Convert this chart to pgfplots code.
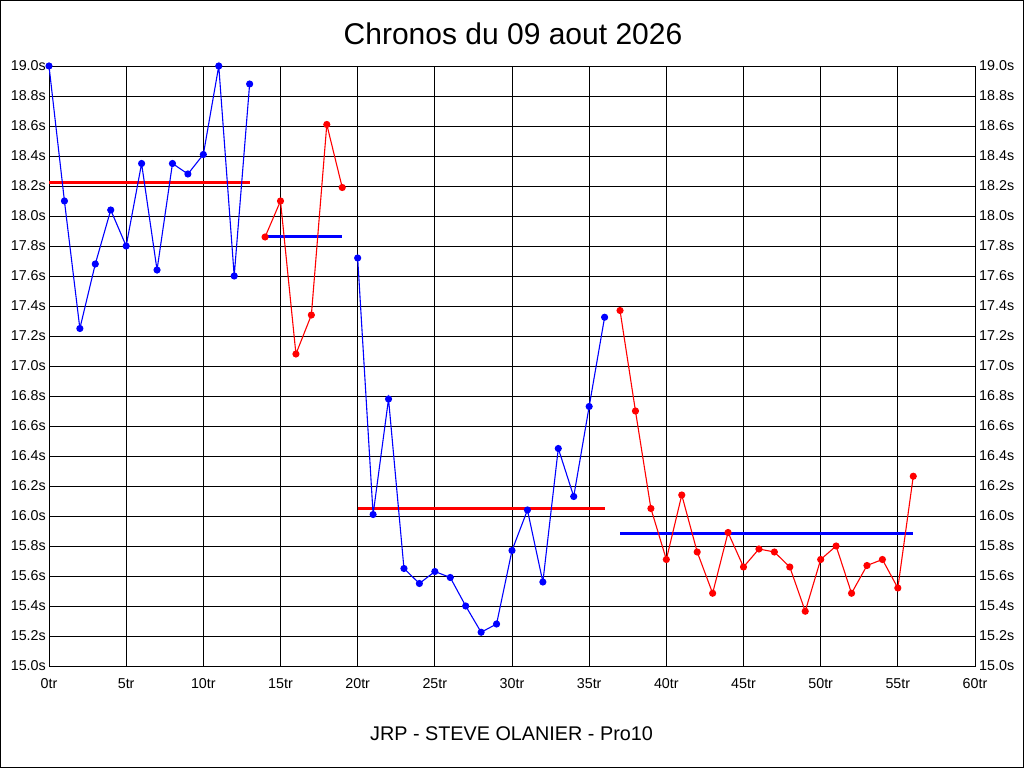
\documentclass[border=0pt]{standalone}
\usepackage{pgfplots}
\pgfplotsset{compat=1.18}
\usepackage{fontspec}
\setmainfont{Liberation Sans}
\begin{document}
\begin{tikzpicture}
\useasboundingbox (0,0) rectangle (1024pt,768pt);
\fill[white] (0,0) rectangle (1024pt,768pt);
\draw[black, line width=1pt] (0.5pt,0.5pt) rectangle (1023.5pt,767.5pt);
\pgfplotsset{
  base/.style={
    at={(49pt,102pt)}, anchor=south west,
    scale only axis, width=926pt, height=600pt,
    xmin=0, xmax=60, ymin=15, ymax=19,
    xtick={0,5,...,60},
    ytick={15,15.2,...,19.01},
    major tick length=0pt,
    /pgf/number format/assume math mode=true,
    tick label style={font=\fontsize{14.3}{16}\selectfont},
    axis line style={black, line width=0.9pt},
    clip=false,
  }
}
\begin{axis}[base,
  grid=major,
  major grid style={black, line width=0.9pt},
  xticklabel={\pgfmathprintnumber{\tick}tr},
  yticklabel={\pgfmathprintnumber[fixed,fixed zerofill,precision=1]{\tick}s},
  xticklabel style={anchor=north, inner sep=0pt, yshift=-12pt},
  yticklabel style={anchor=east, inner sep=0pt, xshift=-3pt},
]
% mean lines
\addplot[red, line width=3pt, no marks] coordinates {(0,18.225) (13,18.225)};
\addplot[blue, line width=3pt, no marks] coordinates {(14,17.865) (19,17.865)};
\addplot[red, line width=3pt, no marks] coordinates {(20,16.05) (36,16.05)};
\addplot[blue, line width=3pt, no marks] coordinates {(37,15.88) (56,15.88)};
% series
\addplot[blue, line width=1.1pt, mark=*, mark size=3pt] coordinates {
(0,19.00) (1,18.10) (2,17.25) (3,17.68) (4,18.04) (5,17.80) (6,18.35)
(7,17.64) (8,18.35) (9,18.28) (10,18.41) (11,19.00) (12,17.60) (13,18.88)};
\addplot[red, line width=1.1pt, mark=*, mark size=3pt] coordinates {
(14,17.86) (15,18.10) (16,17.08) (17,17.34) (18,18.61) (19,18.19)};
\addplot[blue, line width=1.1pt, mark=*, mark size=3pt] coordinates {
(20,17.72) (21,16.01) (22,16.78) (23,15.65) (24,15.55) (25,15.63) (26,15.59)
(27,15.40) (28,15.225) (29,15.28) (30,15.77) (31,16.04) (32,15.56) (33,16.45)
(34,16.13) (35,16.73) (36,17.325)};
\addplot[red, line width=1.1pt, mark=*, mark size=3pt] coordinates {
(37,17.37) (38,16.70) (39,16.05) (40,15.71) (41,16.14) (42,15.76) (43,15.485)
(44,15.89) (45,15.66) (46,15.78) (47,15.76) (48,15.66) (49,15.365) (50,15.71)
(51,15.80) (52,15.485) (53,15.67) (54,15.71) (55,15.52) (56,16.265)};
\end{axis}
\begin{axis}[base,
  axis x line=none,
  axis y line*=right,
  yticklabel={\pgfmathprintnumber[fixed,fixed zerofill,precision=1]{\tick}s},
  yticklabel style={anchor=west, inner sep=0pt, xshift=4pt},
]
\addplot[draw=none] coordinates {(0,15)};
\end{axis}
\node[font=\fontsize{30}{35}\selectfont] at (513pt,734pt) {Chronos du 09 aout 2026};
\node[font=\fontsize{19.8}{23}\selectfont] at (511.5pt,34.5pt) {JRP - STEVE OLANIER - Pro10};
\end{tikzpicture}
\end{document}
